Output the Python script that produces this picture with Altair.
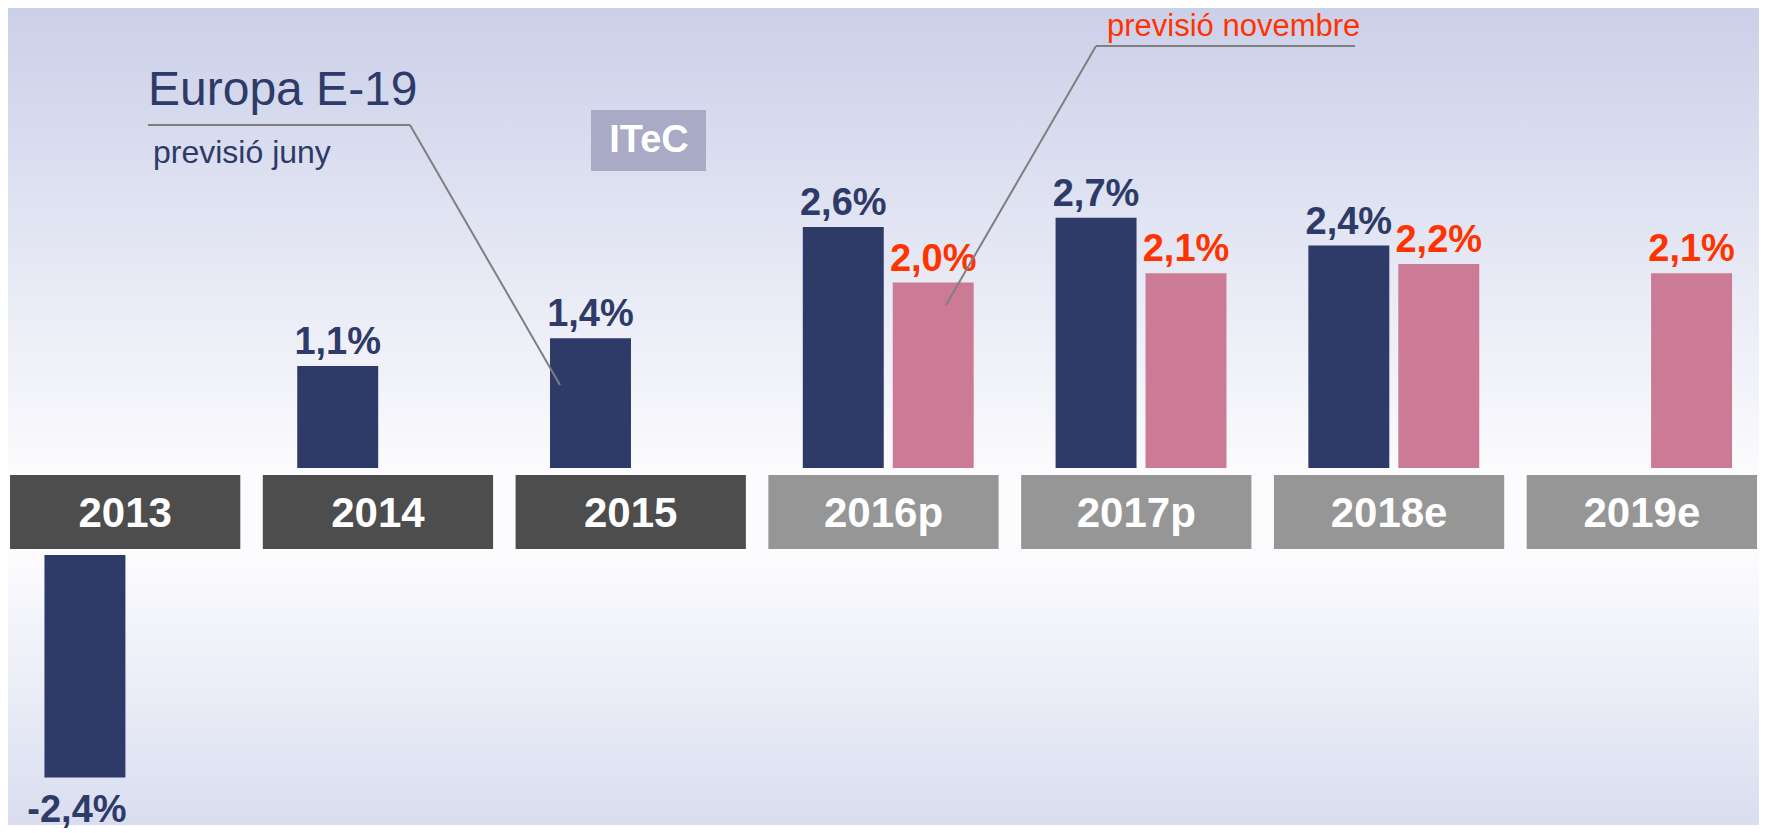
import altair as alt
import pandas as pd

# ---- data ----
years = ["2013", "2014", "2015", "2016p", "2017p", "2018e", "2019e"]
juny = [-2.4, 1.1, 1.4, 2.6, 2.7, 2.4, None]        # previsió juny (Europa E-19)
novembre = [None, None, None, 2.0, 2.1, 2.2, 2.1]   # previsió novembre
period = ["real", "real", "real", "prev", "prev", "prev", "prev"]
series_names = ["previsió juny", "previsió novembre"]

rows = []
for yr, j, n in zip(years, juny, novembre):
    for s, v in zip(series_names, (j, n)):
        if v is not None:
            rows.append({"year": yr, "series": s, "value": v,
                         "label": f"{v:.1f}".replace(".", ",") + "%"})
bars = pd.DataFrame(rows)
cats = pd.DataFrame({"year": years, "period": period})
one = pd.DataFrame({"k": [0]})

# ---- style ----
NAVY = "#2e3a68"
PINK = "#cc7b96"
RED = "#ff3300"
DARK = "#4d4d4d"
LIGHT = "#969696"
LINE = "#7f7f7f"
FONT = "Liberation Sans"

W = 1751
H_TOP, H_MID, H_BOT = 460, 87, 270
PX_PER_UNIT = 92.7

xenc = alt.X("year:N", sort=years,
             scale=alt.Scale(domain=years, paddingInner=0.089, paddingOuter=0.008),
             axis=None)
xoff = alt.XOffset("series:N",
                   scale=alt.Scale(domain=series_names, paddingInner=0.1,
                                   paddingOuter=0.33, align=0.58))
bar_color = alt.condition(alt.datum.series == "previsió novembre", alt.value(PINK), alt.value(NAVY))
txt_color = alt.condition(alt.datum.series == "previsió novembre", alt.value(RED), alt.value(NAVY))


def bg(c0, c1, h):
    return alt.Chart(one).mark_rect(
        fill=alt.Gradient(gradient="linear", x1=0, x2=0, y1=0, y2=1,
                          stops=[alt.GradientStop(color=c0, offset=0),
                                 alt.GradientStop(color=c1, offset=1)])
    ).encode(x=alt.value(0), x2=alt.value(W), y=alt.value(0), y2=alt.value(h))


def rule(x1, y1, x2, y2):
    return alt.Chart(one).mark_rule(color=LINE, strokeWidth=2).encode(
        x=alt.value(x1), y=alt.value(y1), x2=alt.value(x2), y2=alt.value(y2))


def note(txt, x, y, size, color, weight="normal", align="left", baseline="alphabetic"):
    return alt.Chart(one).mark_text(
        text=txt, font=FONT, fontSize=size, color=color, fontWeight=weight,
        align=align, baseline=baseline
    ).encode(x=alt.value(x), y=alt.value(y))


# ---- top panel: positive values ----
yt = alt.Y("value:Q", scale=alt.Scale(domain=[0, H_TOP / PX_PER_UNIT], nice=False, zero=True),
           axis=None)
pos = alt.Chart(bars).transform_filter(alt.datum.value > 0)
top_bars = pos.mark_bar().encode(x=xenc, xOffset=xoff, y=yt, color=bar_color)
top_lbl = pos.mark_text(font=FONT, fontSize=38, fontWeight="bold", baseline="alphabetic",
                        dy=-12).encode(x=xenc, xOffset=xoff, y=yt, text="label:N", color=txt_color)

logo_box = alt.Chart(one).mark_rect(color="#a9aac6").encode(
    x=alt.value(583), x2=alt.value(698), y=alt.value(102), y2=alt.value(163))

top = alt.layer(
    bg("#cbd0e9", "#fbfbfd", H_TOP),
    top_bars,
    top_lbl,
    logo_box,
    note("ITeC", 641, 133, 38, "white", weight="bold", align="center", baseline="middle"),
    note("Europa E-19", 140, 97, 48, NAVY),
    note("previsió juny", 145, 155, 32, NAVY),
    note("previsió novembre", 1099, 28, 31, RED),
    rule(140, 117, 402, 117),
    rule(402, 117, 552, 377),
    rule(1088, 38, 1347, 38),
    rule(1088, 38, 938, 297),
).properties(width=W, height=H_TOP)

# ---- middle panel: year boxes ----
boxes = alt.Chart(cats).mark_rect().encode(
    x=xenc, y=alt.value(7), y2=alt.value(81),
    color=alt.condition(alt.datum.period == "real", alt.value(DARK), alt.value(LIGHT)))
year_txt = alt.Chart(cats).mark_text(font=FONT, fontSize=42, fontWeight="bold", color="white",
                                     baseline="alphabetic").encode(
    x=xenc, y=alt.value(59), text="year:N")
mid = alt.layer(bg("#fcfcfe", "#fcfcfe", H_MID), boxes, year_txt).properties(width=W, height=H_MID)

# ---- bottom panel: negative values ----
yb = alt.Y("value:Q", scale=alt.Scale(domain=[-H_BOT / PX_PER_UNIT, 0], nice=False, zero=True),
           axis=None)
neg = alt.Chart(bars).transform_filter(alt.datum.value < 0)
bot_bars = neg.mark_bar().encode(x=xenc, xOffset=xoff, y=yb, color=bar_color)
bot_lbl = neg.mark_text(font=FONT, fontSize=38, fontWeight="bold", baseline="alphabetic",
                        dy=45, dx=-8).encode(x=xenc, xOffset=xoff, y=yb, text="label:N",
                                             color=txt_color)
bot = alt.layer(bg("#fcfcfe", "#d9ddef", H_BOT), bot_bars, bot_lbl).properties(width=W, height=H_BOT)

chart = alt.vconcat(top, mid, bot, spacing=0).resolve_scale(
    y="independent"
).properties(padding=0, background="white").configure_view(strokeWidth=0)

chart.save("out.html", embed_options={"renderer": "svg", "actions": False})
